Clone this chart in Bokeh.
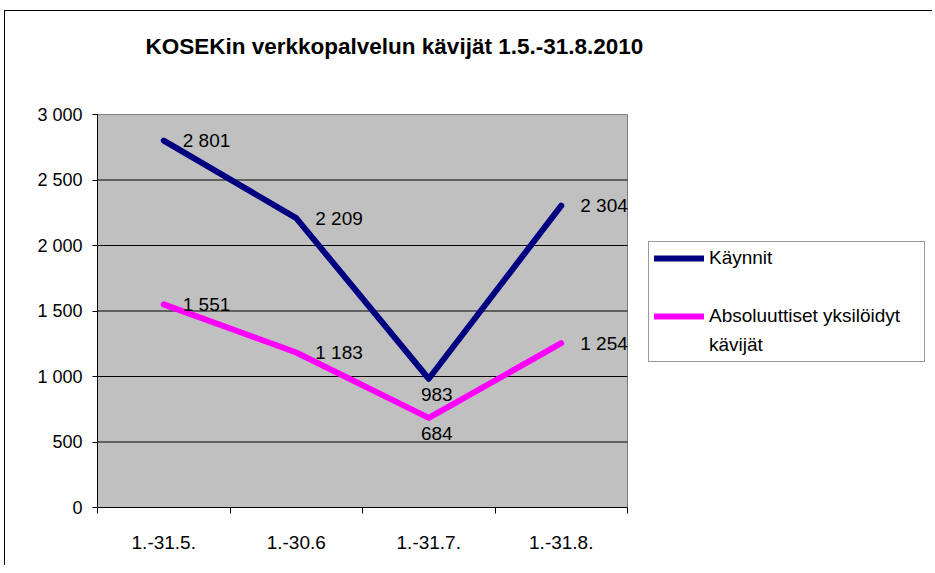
from bokeh.plotting import figure
from bokeh.models import (Range1d, FixedTicker, Legend, LegendItem, Label,
                          ColumnDataSource, LinearAxis)
from bokeh.core.properties import value
from bokeh.embed import file_html
from bokeh.resources import INLINE

# ---- data ----
categories = ["1.-31.5.", "1.-30.6", "1.-31.7.", "1.-31.8."]
kaynnit = [2801, 2209, 983, 2304]
kavijat = [1551, 1183, 684, 1254]
series_names = ["Käynnit", "Absoluuttiset yksilöidyt kävijät"]
y_ticks = [0, 500, 1000, 1500, 2000, 2500, 3000]
y_tick_labels = ["0", "500", "1 000", "1 500", "2 000", "2 500", "3 000"]
title_text = "KOSEKin verkkopalvelun kävijät 1.5.-31.8.2010"

# ---- layout (page pixels) ----
FONT = "Liberation Sans"
NAVY = "#000080"
MAGENTA = "#FF00FF"
W, H = 928, 555
CANVAS_X0, CANVAS_Y0 = 5, 11          # 4/10 px margin + 1 px border
PLOT_L, PLOT_R, PLOT_T, PLOT_B = 97, 627, 114, 507
TITLE_X, TITLE_BASELINE = 145, 46
LEGEND_L, LEGEND_B = 648, 362

n = len(categories)
xs = [i + 1 for i in range(n)]
x0, x1 = 0.5, n + 0.5
y0, y1 = y_ticks[0], y_ticks[-1]
ppx = (PLOT_R - PLOT_L) / (x1 - x0)
ppy = (PLOT_B - PLOT_T) / (y1 - y0)
frame_r = CANVAS_X0 + W
x_end = x0 + (frame_r - PLOT_L) / ppx
y_end = y0 + (PLOT_B - CANVAS_Y0) / ppy

p = figure(width=W, height=H, output_backend="svg", toolbar_location=None,
           x_range=Range1d(x0, x_end), y_range=Range1d(y0, y_end),
           x_axis_type=None, y_axis_type=None,
           min_border_left=PLOT_L - CANVAS_X0, min_border_right=0,
           min_border_top=0, min_border_bottom=CANVAS_Y0 + H - PLOT_B)
p.styles = {"margin-left": "4px", "margin-top": "10px",
            "border-left": "1px solid #000000", "border-top": "1px solid #000000"}
p.background_fill_color = "white"
p.border_fill_color = "white"
p.outline_line_color = None

# plot area
p.quad(left=[x0], right=[x1], bottom=[y0], top=[y1], fill_color="#C0C0C0",
       line_color="#808080", line_width=1, level="image")
# gridlines
grid_y = y_ticks[1:-1]
p.segment(x0=[x0] * len(grid_y), x1=[x1] * len(grid_y), y0=grid_y, y1=grid_y,
          line_color="black", line_width=1, level="underlay")

yaxis = LinearAxis(ticker=FixedTicker(ticks=y_ticks, minor_ticks=[]),
                   bounds=(y0, y1))
yaxis.major_label_overrides = {t: l for t, l in zip(y_ticks, y_tick_labels)}
yaxis.major_tick_out = 5
yaxis.major_tick_in = 0
yaxis.minor_tick_out = 0
yaxis.minor_tick_in = 0
yaxis.axis_line_color = "black"
yaxis.major_tick_line_color = "black"
yaxis.major_label_standoff = 10
yaxis.major_label_text_font = FONT
yaxis.major_label_text_font_size = "18px"
yaxis.major_label_text_color = "black"
p.add_layout(yaxis, "left")

xaxis = LinearAxis(ticker=FixedTicker(ticks=xs,
                                      minor_ticks=[x - 0.5 for x in xs] + [xs[-1] + 0.5]),
                   bounds=(x0, x1))
xaxis.major_label_overrides = {x: c for x, c in zip(xs, categories)}
xaxis.major_tick_out = 0
xaxis.major_tick_in = 0
xaxis.minor_tick_out = 6
xaxis.minor_tick_in = 0
xaxis.minor_tick_line_color = "black"
xaxis.axis_line_color = "black"
xaxis.major_label_standoff = 22
xaxis.major_label_text_font = FONT
xaxis.major_label_text_font_size = "19px"
xaxis.major_label_text_color = "black"
p.add_layout(xaxis, "below")

# title
p.add_layout(Label(x=x0 + (TITLE_X - PLOT_L) / ppx,
                   y=y0 + (PLOT_B - TITLE_BASELINE) / ppy,
                   text=title_text, text_align="left", text_baseline="alphabetic",
                   text_font=FONT, text_font_size="22.5px", text_font_style="bold",
                   text_color="black"))

r1 = p.line(xs, kaynnit, line_color=NAVY, line_width=6, line_cap="round",
            line_join="round")
r2 = p.line(xs, kavijat, line_color=MAGENTA, line_width=6, line_cap="round",
            line_join="round")
blank = p.line(x=[], y=[], line_alpha=0)

# data labels: right of point, except the minimum month (below)
low = kaynnit.index(min(kaynnit))
lx, ly, lt, xo, yo, al = [], [], [], [], [], []
for series in (kaynnit, kavijat):
    for i, v in enumerate(series):
        lx.append(xs[i])
        ly.append(v)
        lt.append(f"{v:,}".replace(",", " "))
        if i == low:
            xo.append(8); yo.append(16); al.append("center")
        else:
            xo.append(19); yo.append(0); al.append("left")
src = ColumnDataSource(dict(x=lx, y=ly, t=lt, xo=xo, yo=yo, al=al))
p.text(x="x", y="y", text="t", x_offset="xo", y_offset="yo", text_align="al",
       source=src, text_baseline="middle", text_font=value(FONT),
       text_font_size="19px", text_color="black")

first, second = series_names[1].rsplit(" ", 1)
legend = Legend(items=[
    LegendItem(label=series_names[0], renderers=[r1]),
    LegendItem(label=" ", renderers=[blank]),
    LegendItem(label=first, renderers=[r2]),
    LegendItem(label=second, renderers=[blank]),
], location=(LEGEND_L - PLOT_L, PLOT_B - LEGEND_B))
legend.margin = 0
legend.padding = 5
legend.spacing = 7
legend.glyph_width = 50
legend.glyph_height = 22
legend.label_height = 22
legend.label_width = 210
legend.label_standoff = 5
legend.border_line_color = "#333333"
legend.border_line_width = 1
legend.background_fill_color = "white"
legend.background_fill_alpha = 1
legend.label_text_font = FONT
legend.label_text_font_size = "19px"
legend.label_text_color = "black"
legend.label_text_baseline = "middle"
p.add_layout(legend, "center")

html = file_html(p, INLINE)
open("out.html", "w").write(html)
